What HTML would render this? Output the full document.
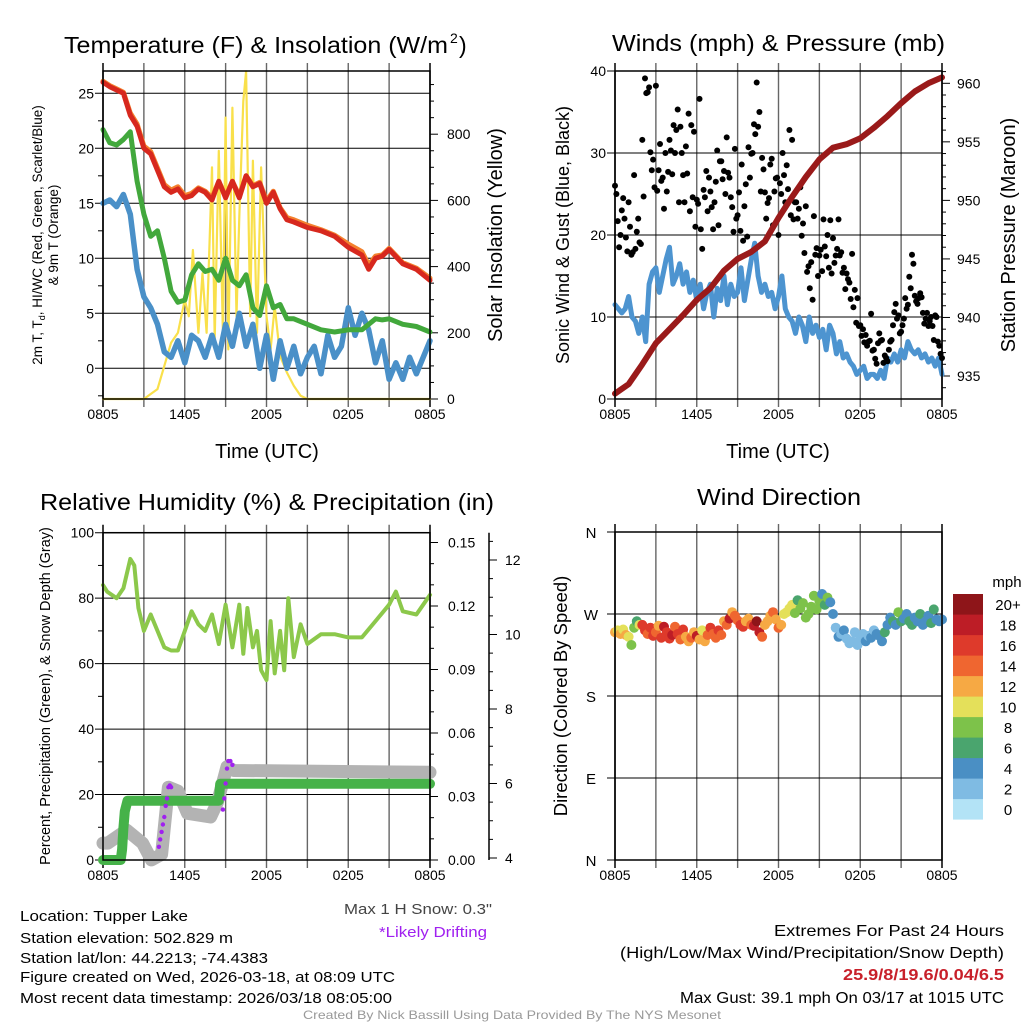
<!DOCTYPE html>
<html><head><meta charset="utf-8"><title>Tupper Lake Meteogram</title>
<style>
html,body{margin:0;padding:0;background:#fff;}
svg{display:block;font-family:"Liberation Sans",Arial,sans-serif;}
</style></head>
<body>
<svg id="chart" width="1024" height="1024" viewBox="0 0 1024 1024" xmlns="http://www.w3.org/2000/svg">
<rect x="0" y="0" width="1024" height="1024" fill="#fff"/>
<text x="64" y="53" font-size="23" textLength="384" lengthAdjust="spacingAndGlyphs">Temperature (F) &amp; Insolation (W/m</text>
<text x="450" y="43" font-size="14">2</text>
<text x="459" y="53" font-size="23">)</text>
<text x="612" y="51" font-size="23" textLength="333" lengthAdjust="spacingAndGlyphs">Winds (mph) &amp; Pressure (mb)</text>
<text x="40" y="510" font-size="23" textLength="454" lengthAdjust="spacingAndGlyphs">Relative Humidity (%) &amp; Precipitation (in)</text>
<text x="697" y="505" font-size="23" textLength="164" lengthAdjust="spacingAndGlyphs">Wind Direction</text>

<text transform="translate(42,235) rotate(-90)" text-anchor="middle" font-size="13.5">2m T, T<tspan font-size="9" dy="3">d</tspan><tspan dy="-3">, HI/WC (Red, Green, Scarlet/Blue)</tspan></text>
<text transform="translate(58,235) rotate(-90)" text-anchor="middle" font-size="13.5">&amp; 9m T (Orange)</text>
<text transform="translate(502,235) rotate(-90)" text-anchor="middle" font-size="20">Solar Insolation (Yellow)</text>
<text transform="translate(569,235) rotate(-90)" text-anchor="middle" font-size="18">Sonic Wind &amp; Gust (Blue, Black)</text>
<text transform="translate(1015,235) rotate(-90)" text-anchor="middle" font-size="20">Station Pressure (Maroon)</text>
<text transform="translate(50,696) rotate(-90)" text-anchor="middle" font-size="14.5">Percent, Precipitation (Green), &amp; Snow Depth (Gray)</text>
<text transform="translate(567,696) rotate(-90)" text-anchor="middle" font-size="18.5">Direction (Colored By Speed)</text>
<text x="267" y="458" text-anchor="middle" font-size="20">Time (UTC)</text>
<text x="778" y="458" text-anchor="middle" font-size="20">Time (UTC)</text>

<g font-size="15">
<text x="20" y="921" textLength="168" lengthAdjust="spacingAndGlyphs">Location: Tupper Lake</text>
<text x="20" y="943" textLength="213" lengthAdjust="spacingAndGlyphs">Station elevation: 502.829 m</text>
<text x="20" y="963" textLength="248" lengthAdjust="spacingAndGlyphs">Station lat/lon: 44.2213; -74.4383</text>
<text x="20" y="982" textLength="375" lengthAdjust="spacingAndGlyphs">Figure created on Wed, 2026-03-18, at 08:09 UTC</text>
<text x="20" y="1003" textLength="372" lengthAdjust="spacingAndGlyphs">Most recent data timestamp: 2026/03/18 08:05:00</text>
</g>
<text x="344" y="914" font-size="15" fill="#444" textLength="148" lengthAdjust="spacingAndGlyphs">Max 1 H Snow: 0.3"</text>
<text x="379" y="937" font-size="15" fill="#a020f0" textLength="108" lengthAdjust="spacingAndGlyphs">*Likely Drifting</text>
<text x="774" y="936" font-size="16" textLength="230" lengthAdjust="spacingAndGlyphs">Extremes For Past 24 Hours</text>
<text x="620" y="958" font-size="16" textLength="384" lengthAdjust="spacingAndGlyphs">(High/Low/Max Wind/Precipitation/Snow Depth)</text>
<text x="843" y="980" font-size="16" font-weight="bold" fill="#c8202a" textLength="161" lengthAdjust="spacingAndGlyphs">25.9/8/19.6/0.04/6.5</text>
<text x="680" y="1003" font-size="15.5" textLength="324" lengthAdjust="spacingAndGlyphs">Max Gust: 39.1 mph On 03/17 at 1015 UTC</text>
<text x="303" y="1019" font-size="12" fill="#999" textLength="418" lengthAdjust="spacingAndGlyphs">Created By Nick Bassill Using Data Provided By The NYS Mesonet</text>
</svg>
<script>
// ---------- DATA ----------
const xTickLabels=["0805","1405","2005","0205","0805"];
const tempTicks=[0,5,10,15,20,25];
const insolTicks=[0,200,400,600,800];
const windTicks=[0,10,20,30,40];
const presTicks=[935,940,945,950,955,960];
const rhTicks=[0,20,40,60,80,100];
const precipTicks=["0.00","0.03","0.06","0.09","0.12","0.15"];
const snowTicks=[4,6,8,10,12];
const dirTickLabels=["N","E","S","W","N"];
const cbarLabels=["0","2","4","6","8","10","12","14","16","18","20+"];
const cbarColors=["#b3e3f6","#7fbbe3","#4a8fc4","#4aa56e","#7dc24a","#e4e05a","#f6a944","#ef6630","#de3a2b","#bd1d26","#8e1519"];

const tHours=[0,0.5,1,1.5,2,2.5,3,3.5,4,4.5,5,5.5,6,6.5,7,7.5,8,8.5,9,9.5,10,10.5,11,11.5,12,12.5,13,13.5,14,15,16,17,18,19,19.5,20,20.5,21,22,23,24];
const tempRed=[26,25.6,25.3,25,23,22,20,19.5,18,16.5,16,16.3,15.5,15.7,16.3,16,15.3,17,15.5,17,15.5,17.5,16.5,16.8,15,16,14.5,13.5,13.3,12.8,12.5,12,11,10.3,9,10,10.2,10.8,9.5,9,8];
const temp9m=[26.1,25.7,25.4,25.1,23.2,22.2,20.2,19.7,18.2,16.7,16.2,16.5,15.7,15.9,16.4,16.1,15.5,17,15.6,17,15.7,17.5,16.6,16.9,15.2,16.1,14.6,13.7,13.5,13,12.6,12.1,11.3,10.6,9.4,10.2,10.3,10.9,9.6,9.1,8.2];
const dewGreen=[21.7,20.5,20.3,20.8,21.5,17,14,12,12.5,10,7,6,6.2,8.5,9.5,8.8,9,8,10,8,7.5,8.5,5.5,4.8,7.5,5.5,5.8,4.5,4.5,4,3.5,3.3,3.5,3.5,4,4.5,4.4,4.5,4,3.8,3.3];
const wcHours=[0,0.5,1,1.5,2,2.5,3,3.5,4,4.5,5,5.5,6,6.5,7,7.5,8,8.5,9,9.5,10,10.5,11,11.5,12,12.5,13,13.5,14,14.5,15,15.5,16,16.5,17,17.5,18,18.5,19,19.5,20,20.5,21,21.5,22,22.5,23,23.5,24];
const wcBlue=[15,15.3,14.7,15.8,14,9,6.5,5.5,4,1.5,1,2.5,0.5,3,2.5,1,3,1,4,2,5,2,4,0,3,-1,2.5,0,2,-0.5,1,2,-0.5,3,1,2,5.5,3,5,3.5,0.5,2.5,-1,0.5,-1,1,-0.5,1,2.5];
const insHours=[0,3,3.5,4,4.5,5,5.5,6,6.3,6.6,7,7.3,7.6,8,8.2,8.5,8.8,9,9.2,9.5,9.8,10,10.3,10.5,10.8,11,11.3,11.6,12,12.3,12.6,13,13.5,14,14.5,15,24];
const insol=[0,0,15,30,100,170,200,300,250,450,200,380,200,700,180,750,200,850,150,880,250,550,900,990,250,720,200,700,250,150,280,130,80,40,10,0,0];

// sonic wind every 15 minutes
const windSpeed=[11.5,11,10.5,11, 12.5,10,9.5,8, 10,7,14,15.5, 16,13,15,17, 18.5,14,15,16.5, 14,15.5,13,14.5, 12,14,11,13, 14,10,13.5,12, 15,11.5,14,12.5, 13,16,12,14.5, 17,19,15,13, 14,12.5,13,11, 12.5,15,11,10, 9.5,8,10,9, 7,10,8,9, 7.5,8.5,6,9, 8,5.5,7,5, 5.5,4.5,4,3, 3.5,4,2.5,3, 3,2.5,3.5,2.5, 5,4.5,5.5,4.5, 6,5,7,6, 5.5,6,5,5.5, 4.5,5,4,5, 3];
const presHours=[0,1,2,3,4,5,6,7,8,9,10,11,12,13,14,15,16,17,18,19,20,21,22,23,24];
const pressure=[933.5,934.3,936,937.8,939,940.2,941.5,942.5,944,945,945.6,946.5,948.5,950.3,952,953.5,954.5,954.8,955.3,956.2,957.2,958.3,959.3,960,960.5];
// gusts every 12 minutes (two interleaved series)
const gusts=[26,21.7,20,24.5,19.7, 24,17.6,27.3,20.4,19.1, 31.6,39.1,37.4,30.1,29.2, 38.2,27.9,26.6,23.2,25.3, 31.6,27.4,30,35.3,33.2, 27.3,30.8,34.8,33.4,32.6, 24.3,36.6,18.3,24.6,22.9, 25.3,20.7,26.5,21.2,29, 27.8,31.9,27,23.4,30.5, 22.4,20.5,19.3,26.2,30.7, 29.9,33.5,38.6,35,29.4, 25.2,23.9,28.6,21.2,26.9, 20,25,27.3,28.5,32.8, 31.6,24,22,25.8,21.4, 23.5,16.2,16.7,22.3,18.4, 17.5,15.6,18.6,20,21.8, 19.6,17.5,21.9,17.9,16, 15.3,14.2,17.7,13.3,12.3, 9,8.5,7.8,7,10.4, 6,4.3,8,7.2,5.3, 4.6,7,9,11.6,10.2, 8.2,9.8,11,14.9,17.6, 12.6,11.6,12.9,10.5,9.8, 8.9,10,7.2,10,6.5, 5];
const gusts2=[25,18.5,23,22,18, 21,17.9,18.3,22,18.9, 24.7,37.3,38,27.9,25.8, 25.4,31.1,27,30,27.7, 30.3,33.4,32.8,24,30, 24,27.5,22.9,24.6,21, 23.8,20.7,25.5,27.8,27, 23.4,24,30.3,29,26.8, 25,27.6,24.6,20.4,22, 25.2,28.6,23.5,19.8,27, 30,32.3,33.2,25.3,28, 22,24.5,29.3,25.3,27, 26.3,30,24,25.6,22.4, 21.9,24,23.2,19.9,17.8, 15.5,13.5,12.1,17.6,15, 18.2,21.9,17.4,16,15.3, 16.6,18.3,17.5,15.4,13.4, 14.6,12.2,11.2,9.3,8.9, 7.7,6.9,6.5,7.1,5.9, 4.9,6.8,7.1,4.4,5, 6,7.2,10.6,9.8,8, 9,12.3,11.5,13.5,16.5, 11.9,12.3,12.4,9.2,10.5, 9.5,8.9,10.2,7,5.5];

const rhHours=[0,0.3,1,1.5,2,2.3,2.6,3,3.5,4,4.5,5,5.5,6,6.5,7,7.5,8,8.5,9,9.5,10,10.3,10.6,11,11.3,11.6,12,12.3,12.6,13,13.3,13.6,14,14.5,15,16,17,18,19,20,21,21.5,22,23,23.5,24];
const rhVals=[84,82,80,83,92,90,77,70,75,70,65,64,64,70,76,72,70,75,66,78,65,78,63,77,65,70,58,55,73,57,70,58,80,62,72,66,69,69,68,68,73,78,82,76,75,78,81];
const precipHours=[0,1.3,1.4,1.5,1.6,1.8,8.5,8.6,24];
const precipVals=[0,0,0.005,0.015,0.023,0.028,0.028,0.036,0.036];
const snowHours=[0,0.35,1.74,2.9,3.55,4.3,4.8,5.5,6.2,7.9,8.4,9.1,9.6,24];
const snowVals=[4.4,4.4,4.75,4.4,3.95,4.1,5.9,5.8,5.2,5.1,5.5,6.45,6.35,6.3];
const driftHours=[4.1,4.2,4.3,4.4,4.5,4.6,4.7,4.8,4.9,5.0,8.8,8.9,9.0,9.1,9.2,9.35,9.5];
const driftVals=[4.3,4.5,4.7,4.9,5.1,5.4,5.6,5.9,5.95,5.9,5.3,5.6,6.0,6.4,6.6,6.6,6.5];

const dirDeg=[250,252,248,253,247, 245,236,255,262,258, 258,252,248,255,246, 250,257,244,256,250, 243,247,256,248,242, 253,245,240,244,250, 246,242,252,240,247, 255,248,244,252,247, 262,258,265,272,268, 263,258,256,262,265, 258,257,262,250,245, 258,262,268,272,264, 255,258,270,272,276, 280,271,285,276,282, 266,270,278,290,275, 284,292,280,288,283, 270,255,245,248,252, 243,238,240,250,236, 244,248,240,246,244, 252,248,246,240,250, 258,266,262,258,272, 262,265,270,262,258, 266,262,270,258,262, 268,260,275,264,262, 264];
const dirSpeed=[12,10,12,10,12, 10,8,8,6,10, 16,16,14,16,16, 14,12,16,18,16, 16,18,14,16,14, 16,12,12,14,12, 18,12,10,12,14, 16,14,14,16,14, 12,14,18,12,14, 14,16,16,12,12, 14,18,20,18,14, 12,12,12,14,12, 14,12,10,10,10, 10,8,6,8,8, 8,8,8,8,8, 8,4,6,8,4, 4,2,4,2,4, 2,2,2,2,2, 2,2,4,2,4, 2,4,4,4,6, 4,4,6,4,8, 6,4,4,6,6, 4,4,6,4,4, 4,6,6,4,4, 4];

// ---------- HELPERS ----------
const NS='http://www.w3.org/2000/svg';
const svg=document.getElementById('chart');
function mk(tag,attrs,parent){const e=document.createElementNS(NS,tag);for(const k in attrs)e.setAttribute(k,attrs[k]);(parent||svg).appendChild(e);return e;}
function hx(x0,x1){return h=>x0+h/24*(x1-x0);}
const xL=hx(103,430), xR=hx(615,942);
const yT=v=>368.3-v*11, yI=v=>399-v*0.331;
const yW=v=>399-v*8.2, yP=v=>376-(v-935)*11.708;
const yRH=v=>860-v*3.273, yPr=v=>860-v*2116.7, ySn=v=>858-(v-4)*37.25;
const yD=d=>860-d*0.9111;

function polyline(xs,ys,xf,yf,color,w,name,parent){
  const pts=xs.map((h,i)=>xf(h).toFixed(1)+','+yf(ys[i]).toFixed(1)).join(' ');
  const p=mk('polyline',{points:pts,fill:'none',stroke:color,'stroke-width':w,'stroke-linejoin':'round','stroke-linecap':'round'},parent);
  
  
  return p;
}
function line(x1,y1,x2,y2,color,w,parent){return mk('line',{x1:x1,y1:y1,x2:x2,y2:y2,stroke:color,'stroke-width':w},parent);}
function label(x,y,t,anchor,size,name){
  const e=mk('text',{x:x,y:y,'text-anchor':anchor,'font-size':size});
  e.textContent=t;
  
  
  return e;
}
function panelGrid(x0,x1,y0,y1,xf,hvals,name){
  const g=mk('g',{});
  
  
  for(let k=0;k<=8;k++){const x=xf(k*3);line(x,y0-8,x,y1+8,k===0||k===8?'#000':'#666',k===0||k===8?1.5:1.4,g);}
  hvals.forEach(y=>line(x0-8,y,x1,y,'#000',1,g));
  xTickLabels.forEach((t,i)=>label(xf(i*6),y1+20,t,'middle',14,name+'-x-tick-label'));
  return g;
}
function frame(x0,x1,y0,y1,name){
  const r=mk('rect',{x:x0,y:y0,width:x1-x0,height:y1-y0,fill:'none',stroke:'#000','stroke-width':1.5});
  
  
}

// ---------- PANEL 1 ----------
panelGrid(103,430,71,399,xL,tempTicks.map(yT),'temperature');
tempTicks.forEach(v=>label(94,yT(v)+5,String(v),'end',14,'temperature-y-tick-label'));
for(let v=-2.5;v<=27;v+=2.5){if(v%5!==0)line(98,yT(v),103,yT(v),'#000',1);}
for(let v=0;v<=950;v+=50){line(430,yI(v),v%200===0?438:434,yI(v),'#000',1);}
insolTicks.forEach(v=>label(447,yI(v)+5,String(v),'start',14,'insolation-y-tick-label'));
polyline(insHours,insol,xL,yI,'#f9e04b',2.2,'insolation-line');
polyline(wcHours,wcBlue,xL,yT,'#4a90c8',5.5,'windchill-line');
polyline(tHours,dewGreen,xL,yT,'#42a83c',5,'dewpoint-line');
polyline(tHours,temp9m,xL,yT,'#f4812e',5,'temp-9m-line');
polyline(tHours,tempRed,xL,yT,'#d7281e',5,'temp-2m-line');
frame(103,430,71,399,'temperature');

// ---------- PANEL 2 ----------
panelGrid(615,942,71,399,xR,windTicks.map(yW),'winds');
windTicks.forEach(v=>label(606,yW(v)+5,String(v),'end',14,'wind-y-tick-label'));
for(let v=934;v<=961;v++){line(942,yP(v),v%5===0?950:946,yP(v),'#000',1);}
presTicks.forEach(v=>label(957,yP(v)+5,String(v),'start',14,'pressure-y-tick-label'));
polyline(windSpeed.map((v,i)=>i*0.25),windSpeed,xR,yW,'#4d94d0',5,'wind-speed-line');
const gustG=mk('g',{fill:'#000'});


gusts.forEach((v,i)=>{
  const c=mk('circle',{cx:xR(i*0.2).toFixed(1),cy:yW(v).toFixed(1),r:3},gustG);
  
  
});
gusts2.forEach((v,i)=>{
  const c=mk('circle',{cx:xR(0.1+i*0.2).toFixed(1),cy:yW(v).toFixed(1),r:3},gustG);
  
  
});
polyline(presHours,pressure,xR,yP,'#9a1a1a',6,'pressure-line');
frame(615,942,71,399,'winds');

// ---------- PANEL 3 ----------
panelGrid(103,430,532.7,860,xL,rhTicks.map(yRH),'humidity');
rhTicks.forEach(v=>label(94,yRH(v)+5,String(v),'end',14,'humidity-y-tick-label'));
for(let v=10;v<100;v+=20)line(98,yRH(v),103,yRH(v),'#000',1);
for(let k=0;k<=15;k++){const v=k/100;line(430,yPr(v),k%3===0?438:434,yPr(v),'#000',1);}
precipTicks.forEach(t=>label(448,yPr(parseFloat(t))+5,t,'start',14,'precip-y-tick-label'));
line(489,532.7,489,860,'#000',1.5);
for(let v=4;v<=12.8;v+=0.5){line(489,ySn(v),Number.isInteger(v)&&v%2===0?497:493,ySn(v),'#000',1);}
snowTicks.forEach(v=>label(505,ySn(v)+5,String(v),'start',14,'snow-y-tick-label'));
polyline(snowHours,snowVals,xL,ySn,'#b3b3b3',13,'snow-depth-line');
polyline(precipHours,precipVals,xL,yPr,'#46b249',10,'precip-line');
polyline(rhHours,rhVals,xL,yRH,'#8cc84b',4,'humidity-line');
const dG=mk('g',{fill:'#a020f0'});


driftHours.forEach((h,i)=>{
  const c=mk('circle',{cx:xL(h).toFixed(1),cy:ySn(driftVals[i]).toFixed(1),r:2.2},dG);
  
  
});
frame(103,430,532.7,860,'humidity');

// ---------- PANEL 4 ----------
panelGrid(615,942,532,860,xR,[0,90,180,270,360].map(yD),'direction');
dirTickLabels.forEach((t,i)=>label(591,yD(i*90)+6,t,'middle',15,'direction-y-tick-label'));
const dirG=mk('g',{});


dirDeg.forEach((d,i)=>{
  const idx=Math.min(10,Math.floor(dirSpeed[i]/2));
  const c=mk('circle',{cx:xR(i*0.2).toFixed(1),cy:yD(d).toFixed(1),r:5,fill:cbarColors[idx]},dirG);
  
  
});
frame(615,942,532,860,'direction');
const cbG=mk('g',{});


cbarColors.forEach((c,i)=>{
  const y=594+(10-i)*20.5;
  const r=mk('rect',{x:953,y:y,width:30,height:20.6,fill:c},cbG);
  
  
  label(1008,y+16,cbarLabels[i],'middle',15,'colorbar-label');
});
label(1007,587,'mph','middle',15,'colorbar-title');
</script>
</body></html>
